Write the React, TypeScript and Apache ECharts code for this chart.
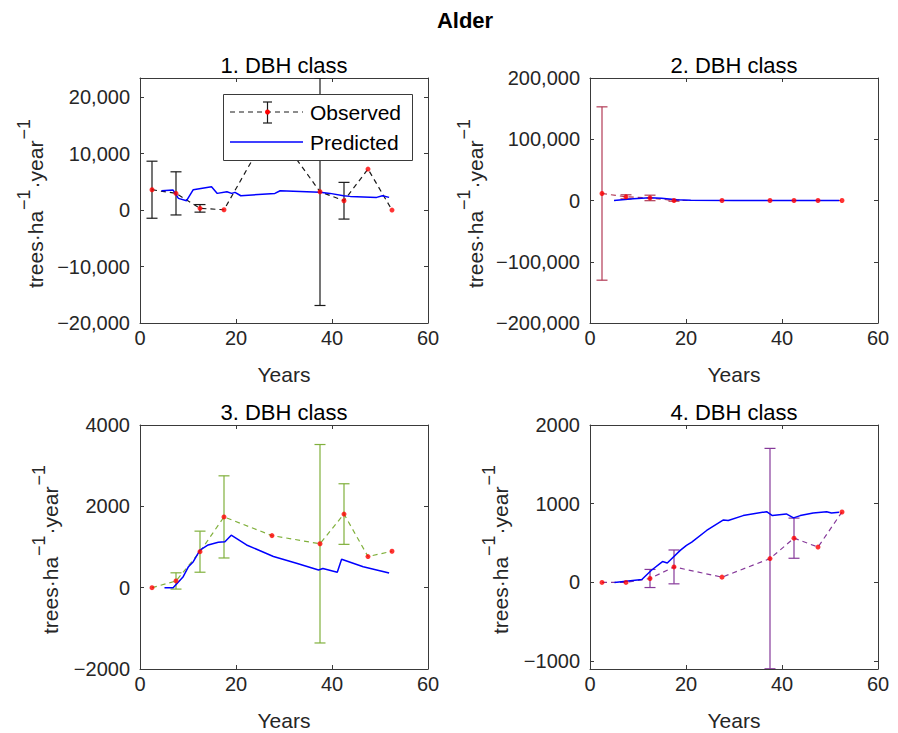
import React, { useEffect, useRef } from "react";
import * as echarts from "echarts";

const FONT = '"Liberation Sans", Arial, Helvetica, sans-serif';
const AXIS_COLOR = "#3a3a3a";
const TEXT_COLOR = "#262626";

// Sampling years of the observed growth rates (one value per 5-year period)
const obsYears = [2.5, 7.5, 12.5, 17.5, 27.5, 37.5, 42.5, 47.5, 52.5];

// 1. DBH class
const obs1 = [3600, 2950, 300, 50, 15000, 3240, 1650, 7260, 0];
const err1: (number | null)[] = [5050, 3820, 670, null, null, 20140, 3250, null, null];
const predYears1 = [4.5, 6.9, 8.0, 9.7, 11.1, 14.9, 16.1, 18.1, 19.1, 19.8, 21.0, 28.1, 29.2, 37.5, 39.6, 42.4, 43.8, 49.3, 50.5, 51.9];
const pred1 = [3400, 3540, 2070, 1650, 3600, 4120, 2950, 3240, 2950, 3130, 2530, 2950, 3420, 3130, 2950, 2530, 2420, 2240, 2530, 2240];

// 2. DBH class
const obs2 = [11400, 6000, 4200, 0, 0, 0, 0, 0, 0];
const err2: (number | null)[] = [141500, 3300, 4500, 1200, null, null, null, null, null];
const predYears2 = [5.0, 7.3, 9.0, 12.5, 14.9, 18.1, 21.0, 30.0, 40.0, 51.9];
const pred2 = [0, 1500, 2800, 4400, 3800, 1100, 300, 0, 0, 0];

// 3. DBH class
const obs3 = [0, 165, 885, 1740, 1280, 1080, 1810, 765, 895];
const err3: (number | null)[] = [null, 200, 505, 1010, null, 2440, 745, null, null];
const predYears3 = [5.1, 6.9, 9.0, 10.1, 11.1, 12.5, 14.2, 16.3, 17.7, 19.0, 22.2, 27.8, 32.6, 37.2, 38.1, 41.1, 42.0, 46.5, 51.9];
const pred3 = [0, 0, 270, 515, 640, 925, 1050, 1115, 1130, 1290, 1050, 765, 600, 435, 470, 380, 700, 515, 360];

// 4. DBH class
const obs4 = [0, 0, 50, 197, 67, 303, 562, 449, 895];
const err4: (number | null)[] = [null, null, 115, 215, null, 1400, 255, null, null];
const predYears4 = [5.1, 10.8, 12.8, 15.1, 16.1, 18.8, 20.1, 21.2, 24.3, 27.8, 28.8, 31.9, 36.8, 38.0, 40.9, 42.4, 43.8, 46.5, 49.3, 50.3, 51.9];
const pred4 = [0, 38, 155, 265, 247, 407, 470, 512, 660, 794, 786, 849, 899, 849, 870, 820, 849, 883, 899, 883, 890];

// Axis ticks
const xTicks = [0, 20, 40, 60];
const yTicks1 = [-20000, -10000, 0, 10000, 20000];
const yTicks2 = [-200000, -100000, 0, 100000, 200000];
const yTicks3 = [-2000, 0, 2000, 4000];
const yTicks4 = [-1000, 0, 1000, 2000];

const titles = ["1. DBH class", "2. DBH class", "3. DBH class", "4. DBH class"];
// Y axis unit, split into base text and superscripts
const unitParts: [string, boolean][] = [
  ["trees\u00B7ha", false],
  ["\u22121", true],
  ["\u00B7year", false],
  ["\u22121", true],
];

const fmtComma = (v: number) => {
  const s = Math.abs(v).toLocaleString("en-US");
  return v < 0 ? "\u2212" + s : s;
};
const fmtPlain = (v: number) => (v < 0 ? "\u2212" + Math.abs(v) : String(v));

const panels = [
  { obs: obs1, err: err1, py: predYears1, pred: pred1, ticks: yTicks1, min: -20000, max: 23380, fmt: fmtComma, color: "#1a1a1a", nameX: 35, nameY: 203 },
  { obs: obs2, err: err2, py: predYears2, pred: pred2, ticks: yTicks2, min: -200000, max: 200000, fmt: fmtComma, color: "#B23A55", nameX: 475, nameY: 203 },
  { obs: obs3, err: err3, py: predYears3, pred: pred3, ticks: yTicks3, min: -2000, max: 4000, fmt: fmtPlain, color: "#80B03C", nameX: 50, nameY: 549 },
  { obs: obs4, err: err4, py: predYears4, pred: pred4, ticks: yTicks4, min: -1100, max: 2000, fmt: fmtPlain, color: "#86399A", nameX: 500, nameY: 549 },
];

const grids = [
  { left: 140, top: 78, width: 288, height: 245 },
  { left: 590, top: 78, width: 288, height: 245 },
  { left: 140, top: 425, width: 288, height: 244 },
  { left: 590, top: 425, width: 288, height: 244 },
];

const errorBarRenderer = (color: string) => (params: any, api: any) => {
  const x = api.value(0);
  const y = api.value(1);
  const e = api.value(2);
  const top = api.coord([x, y + e]);
  const bot = api.coord([x, y - e]);
  const hw = 5.5;
  const style = { stroke: color, lineWidth: 1.2 };
  return {
    type: "group",
    children: [
      { type: "line", shape: { x1: top[0], y1: top[1], x2: bot[0], y2: bot[1] }, style },
      { type: "line", shape: { x1: top[0] - hw, y1: top[1], x2: top[0] + hw, y2: top[1] }, style },
      { type: "line", shape: { x1: bot[0] - hw, y1: bot[1], x2: bot[0] + hw, y2: bot[1] }, style },
    ],
  };
};

const BASE_FONT = `21px ${FONT}`;
const SUP_FONT = `18px ${FONT}`;

function makeMeasure() {
  const ctx = document.createElement("canvas").getContext("2d");
  return (text: string, font: string) => {
    if (!ctx) return text.length * 10;
    ctx.font = font;
    return ctx.measureText(text).width;
  };
}

// Rotated y-axis unit label with raised exponents
function unitLabel(cx: number, cy: number, measure: (t: string, f: string) => number) {
  const widths = unitParts.map(([t, sup]) => measure(t, sup ? SUP_FONT : BASE_FONT) + (sup ? 2 : 0));
  const total = widths.reduce((a, b) => a + b, 0);
  let x = -total / 2;
  const children = unitParts.map(([t, sup], k) => {
    const el = {
      type: "text",
      x: x + (sup ? 1 : 0),
      y: sup ? -11.5 : 0,
      style: {
        text: t,
        font: sup ? SUP_FONT : BASE_FONT,
        fill: TEXT_COLOR,
        textAlign: "left",
        textVerticalAlign: "middle",
      },
    };
    x += widths[k];
    return el;
  });
  return { type: "group", x: cx, y: cy, rotation: Math.PI / 2, z: 50, children };
}

function buildOption() {
  const measure = makeMeasure();
  const xAxis: any[] = [];
  const yAxis: any[] = [];
  const series: any[] = [];
  const axisLine = { show: true, onZero: false, lineStyle: { color: AXIS_COLOR, width: 1 } };
  const axisTick = (vals: number[]) => ({
    show: true,
    inside: true,
    length: 4,
    customValues: vals,
    lineStyle: { color: AXIS_COLOR, width: 1 },
  });

  panels.forEach((p, i) => {
    xAxis.push({
      type: "value",
      gridIndex: i,
      position: "bottom",
      min: 0,
      max: 60,
      interval: 20,
      axisLine,
      axisTick: axisTick(xTicks),
      splitLine: { show: false },
      axisLabel: {
        customValues: xTicks,
        margin: 5,
        fontSize: 20,
        fontFamily: FONT,
        color: TEXT_COLOR,
      },
      name: "Years",
      nameLocation: "middle",
      nameGap: 41,
      nameTextStyle: { fontSize: 21, fontFamily: FONT, color: TEXT_COLOR },
    });
    xAxis.push({
      type: "value",
      gridIndex: i,
      position: "top",
      min: 0,
      max: 60,
      interval: 20,
      axisLine,
      axisTick: axisTick(xTicks),
      axisLabel: { show: false },
      splitLine: { show: false },
    });
    yAxis.push({
      type: "value",
      gridIndex: i,
      position: "left",
      min: p.min,
      max: p.max,
      axisLine,
      axisTick: axisTick(p.ticks),
      splitLine: { show: false },
      axisLabel: {
        customValues: p.ticks,
        margin: 10,
        fontSize: 20,
        fontFamily: FONT,
        color: TEXT_COLOR,
        formatter: (v: number) => p.fmt(v),
      },
    });
    yAxis.push({
      type: "value",
      gridIndex: i,
      position: "right",
      min: p.min,
      max: p.max,
      axisLine,
      axisTick: axisTick(p.ticks),
      axisLabel: { show: false },
      splitLine: { show: false },
    });

    const xi = 2 * i;
    const yi = 2 * i;
    const obsData = obsYears.map((x, k) => [x, p.obs[k]]);
    const errData = obsYears
      .map((x, k) => [x, p.obs[k], p.err[k]])
      .filter((d) => d[2] !== null);

    series.push({
      type: "line",
      xAxisIndex: xi,
      yAxisIndex: yi,
      data: obsData,
      showSymbol: false,
      lineStyle: { color: p.color, width: 1.2, type: [5, 4] },
      z: 2,
    });
    series.push({
      type: "custom",
      xAxisIndex: xi,
      yAxisIndex: yi,
      data: errData,
      encode: { x: 0, y: 1 },
      renderItem: errorBarRenderer(p.color),
      clip: true,
      z: 3,
    });
    series.push({
      type: "line",
      xAxisIndex: xi,
      yAxisIndex: yi,
      data: p.py.map((x, k) => [x, p.pred[k]]),
      showSymbol: false,
      lineStyle: { color: "#0000FF", width: 1.5 },
      z: 4,
    });
    series.push({
      type: "scatter",
      xAxisIndex: xi,
      yAxisIndex: yi,
      data: obsData,
      symbolSize: 5,
      itemStyle: { color: "#FF0000" },
      z: 5,
    });
  });

  const titleText = (text: string, x: number, y: number, size: number, weight = "normal") => ({
    type: "text",
    x,
    y,
    z: 50,
    style: {
      text,
      fill: "#000",
      font: `${weight} ${size}px ${FONT}`,
      textAlign: "center",
      textVerticalAlign: "middle",
    },
  });

  // Legend of the first panel, drawn above the series
  const LZ = 100;
  const legend: any[] = [
    {
      type: "rect",
      z: LZ,
      shape: { x: 223.5, y: 94.5, width: 189, height: 66 },
      style: { fill: "#fff", stroke: AXIS_COLOR, lineWidth: 1 },
    },
    {
      type: "line",
      z: LZ + 1,
      shape: { x1: 230, y1: 112, x2: 303, y2: 112 },
      style: { stroke: "#1a1a1a", lineWidth: 1.2, lineDash: [5, 4] },
    },
    {
      type: "line",
      z: LZ + 1,
      shape: { x1: 267.5, y1: 102, x2: 267.5, y2: 123 },
      style: { stroke: "#1a1a1a", lineWidth: 1.2 },
    },
    {
      type: "line",
      z: LZ + 1,
      shape: { x1: 263, y1: 102, x2: 272, y2: 102 },
      style: { stroke: "#1a1a1a", lineWidth: 1.2 },
    },
    {
      type: "line",
      z: LZ + 1,
      shape: { x1: 263, y1: 123, x2: 272, y2: 123 },
      style: { stroke: "#1a1a1a", lineWidth: 1.2 },
    },
    {
      type: "circle",
      z: LZ + 2,
      shape: { cx: 267.5, cy: 112, r: 2.5 },
      style: { fill: "#FF0000" },
    },
    {
      type: "text",
      z: LZ + 1,
      x: 310,
      y: 112,
      style: { text: "Observed", fill: "#000", font: `21px ${FONT}`, textVerticalAlign: "middle" },
    },
    {
      type: "line",
      z: LZ + 1,
      shape: { x1: 230, y1: 142, x2: 303, y2: 142 },
      style: { stroke: "#0000FF", lineWidth: 1.5 },
    },
    {
      type: "text",
      z: LZ + 1,
      x: 310,
      y: 142,
      style: { text: "Predicted", fill: "#000", font: `21px ${FONT}`, textVerticalAlign: "middle" },
    },
  ];

  const graphic: any[] = [
    titleText("Alder", 465, 20, 22, "bold"),
    titleText(titles[0], 284, 65, 22),
    titleText(titles[1], 734, 65, 22),
    titleText(titles[2], 284, 412, 22),
    titleText(titles[3], 734, 412, 22),
    ...panels.map((p) => unitLabel(p.nameX, p.nameY, measure)),
    ...legend,
  ];

  return {
    animation: false,
    backgroundColor: "#fff",
    grid: grids.map((g) => ({ ...g, containLabel: false })),
    xAxis,
    yAxis,
    series,
    graphic,
  };
}

export default function App() {
  const ref = useRef<HTMLDivElement>(null);
  useEffect(() => {
    if (!ref.current) return;
    const chart = echarts.init(ref.current, undefined, { renderer: "svg" });
    chart.setOption(buildOption() as any);
    return () => chart.dispose();
  }, []);
  return (
    <div
      ref={ref}
      style={{ position: "fixed", left: 0, top: 0, width: 898, height: 733, background: "#fff" }}
    />
  );
}
